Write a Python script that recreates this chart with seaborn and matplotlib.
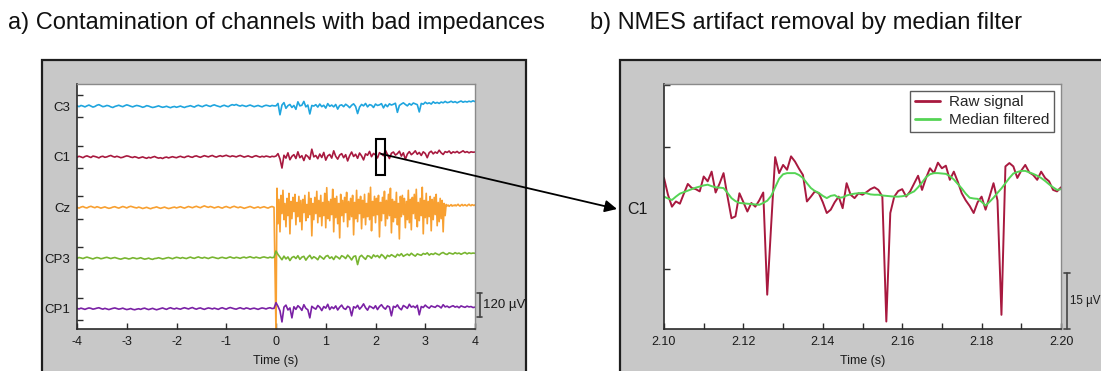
import numpy as np
import pandas as pd
import matplotlib
matplotlib.use("Agg")
import matplotlib.pyplot as plt
from matplotlib.patches import Rectangle
import seaborn as sns

# ---------------------------------------------------------------- data
channels = ["C3", "C1", "Cz", "CP3", "CP1"]
channel_colors = ["#1fa5de", "#a8193f", "#f8a031", "#78b530", "#7a21a5"]
channel_spacing = 250  # µV between stacked traces

# EEG in µV; "pre" sampled every 40 ms from -4 s to onset, "post" from onset to 4 s
C3_pre = [3, -2, 4, 1, -3, 2, 6, 1, -4, -1,
          5, 8, 3, -2, 0, 4, 2, -3, -6, -1,
          2, 5, 1, -2, 3, 7, 4, 0, -3, 1,
          4, 2, -1, -5, -2, 3, 1, -3, -6, -4,
          -1, 2, -2, -5, -3, 0, -4, -7, -3, -1,
          -5, -2, 1, -3, -6, -2, 0, 3, -1, -4,
          2, 5, 1, -2, 3, 6, 2, -1, 4, 7,
          3, 0, -3, 2, 5, 1, -2, 4, 8, 5,
          9, 4, 1, 5, 2, -1, 3, 6, 2, -2,
          1, 4, 0, -3, 2, 5, 3, 0, 4, 2]
C3_post = [2, 14, -42, 6, 18, -10, 3, 9, -6, 4,
           -15, 22, 2, 5, 24, -3, 6, -38, 4, 1,
           8, -4, 11, -2, 5, -9, 13, 0, 6, -3,
           9, -14, 4, 7, -2, 10, 3, -7, 5, 12,
           -1, -36, -4, 9, 2, 14, -3, 8, 5, -6,
           11, 4, 7, 13, -8, 9, -2, 12, 6, 10,
           15, -30, 4, 11, 17, 9, 2, 13, 6, 16,
           12, 8, -28, 14, 10, 20, 13, 17, 11, 22,
           15, 19, 14, 21, 17, 24, 18, 20, 25, 19,
           23, 17, 22, 26, 20, 24, 21, 25, 22, 27, 23]

C1_pre = [-2, 3, 0, -4, 2, 5, 1, -3, 4, 2,
          -1, -5, 1, 3, -2, 0, 4, 7, 2, -1,
          3, 0, -4, -2, 2, 5, 3, -1, -3, 1,
          -2, -6, -3, 0, -4, -7, -2, -5, -1, 2,
          -3, -6, -4, -8, -3, -1, -5, -2, 1, -2,
          -4, 0, 3, -1, -3, 2, 4, 0, -2, 3,
          5, 1, -2, 2, 6, 3, 0, 4, 7, 2,
          -1, 3, 6, 2, 5, 8, 4, 1, 5, 3,
          0, 4, 7, 3, -1, 2, 5, 1, -2, 3,
          6, 2, -1, 3, 0, 4, 2, -1, 3, 1]
C1_post = [4, 16, -10, -55, 8, -6, 20, -14, 3, 11,
           -8, 25, -4, 6, -18, 10, 2, -12, 38, 0,
           7, -9, 14, -3, 22, -16, 5, 12, -6, 30,
           3, -11, 9, 16, -4, 11, -20, 6, 24, 2,
           13, -7, 19, 5, -15, 15, 8, 27, 1, 17,
           10, -5, 21, 14, 6, 32, 12, -8, 18, 24,
           9, 16, 28, 4, 20, -12, 14, 26, 11, 19,
           30, 13, 22, 7, 25, 17, -4, 21, 28, 15,
           24, 18, 33, 20, 12, 26, 22, 29, 17, 25,
           21, 27, 19, 24, 30, 22, 26, 20, 25, 23, 24]

Cz_pre = [1, -3, 2, 5, 0, -2, 3, 6, 2, -1,
          4, 1, -3, 0, 3, -1, -4, -2, 2, 4,
          0, -3, 1, 5, 2, -2, 3, 6, 3, 0,
          -2, 2, -1, -5, -2, 1, -3, -6, -2, 0,
          3, -1, -4, -1, 2, -2, -5, -3, 0, 2,
          -2, 1, 4, 0, -3, 1, 5, 2, -1, 3,
          6, 2, -1, 4, 8, 4, 1, 5, 2, -2,
          1, 4, 0, -3, 2, 5, 1, -2, 3, 6,
          2, -1, 3, 0, -4, -1, 2, 5, 1, -3,
          0, 3, -2, 1, 4, 0, -3, 2, 5, 1]
# Cz after onset is sampled every 20 ms
Cz_post = [-620, 95, -80, 40, -120, 60, -30, 85, -60, 20,
           -95, 45, -40, 70, -130, 30, -55, 50, -20, 65,
           -85, 25, -45, 55, -70, 35, -110, 40, -25, 60,
           -65, 15, -50, 75, -35, 45, -140, 20, -60, 50,
           -30, 80, -75, 35, -45, 60, -90, 25, -40, 70,
           -100, 98, -55, 30, -65, 40, -35, 90, -120, 45,
           -50, 55, -80, 20, -150, 65, -40, 35, -70, 50,
           -25, 75, -95, 30, -60, 45, -45, 60, -135, 25,
           -55, 85, -70, 40, -30, 55, -105, 35, -50, 65,
           -85, 20, -45, 70, -60, 100, -115, 30, -40, 55,
           -75, 45, -35, 60, -145, 25, -65, 50, -30, 80,
           -90, 35, -55, 65, -40, 95, -125, 40, -70, 30,
           -50, 75, -85, 20, -155, 55, -45, 60, -35, 45,
           -100, 30, -60, 85, -75, 40, -110, 50, -30, 65,
           -55, 90, -95, 25, -65, 45, -40, 100, -130, 35,
           -50, 70, -80, 30, -45, 55, -115, 40, -60, 50,
           -35, 65, -90, 25, -70, 45, -55, 35, -120, 20,
           -40, 15, 8, 12, 6, 10, 14, 7, 11, 9,
           13, 8, 12, 16, 10, 7, 12, 15, 9, 11,
           14, 10, 8, 13, 16, 11, 9, 14, 12, 10, 13]

CP3_pre = [-1, 3, 1, -2, 2, 5, 2, -1, -4, 0,
           3, 1, -3, -1, 2, 4, 1, -2, 1, 3,
           0, -3, -5, -2, 1, -1, -4, -2, 2, 0,
           -3, -1, 2, -2, -5, -3, 0, -4, -6, -2,
           -1, 2, -1, -4, -2, 1, 3, 0, -3, 1,
           4, 2, -1, 3, 0, -2, 2, 5, 1, -1,
           3, 6, 2, 0, 4, 1, -2, 2, 5, 3,
           0, -2, 2, 4, 1, -1, 3, 6, 2, 0,
           4, 2, -1, 3, 5, 1, 4, 7, 3, 1,
           5, 2, 0, 4, 6, 3, 1, 5, 2, 4]
CP3_post = [35, 18, 5, -8, 10, -4, 6, -12, 3, 8,
            -2, 12, -6, 5, 9, -10, 4, 14, -3, 7,
            1, -8, 11, 3, -5, 9, 13, -1, 6, -7,
            10, 4, -4, 12, 7, -2, 15, 5, -9, 8,
            11, -32, 6, 14, 3, -6, 12, 9, -1, 16,
            7, 13, 2, 18, 10, -3, 14, 8, 17, 11,
            5, 19, 12, 22, 9, 15, 20, 13, 24, 16,
            10, 21, 17, 14, 23, 19, 26, 15, 22, 18,
            25, 20, 16, 24, 28, 21, 18, 26, 23, 20,
            27, 22, 25, 19, 24, 28, 21, 26, 23, 25, 24]

CP1_pre = [2, -1, 3, 0, -3, 1, 4, 2, -2, 0,
           3, 5, 1, -2, 2, -1, -4, -1, 2, 4,
           1, -2, 0, 3, -1, -4, -2, 1, -3, -5,
           -2, 0, -3, 1, 3, -1, -4, -1, 2, -2,
           -5, -2, 1, 4, 0, -3, 2, 5, 1, -1,
           3, 0, -2, 2, 5, 2, -1, 3, 6, 1,
           -2, 2, 4, 0, -3, 1, 4, 2, -1, 3,
           0, -3, 2, 5, 1, -2, 3, 6, 3, 0,
           -2, 2, 5, 1, -1, 4, 2, -2, 1, 3,
           0, -3, 1, 4, 2, -1, 3, 5, 1, 2]
CP1_post = [30, 12, -10, -65, 8, 18, -6, 4, -45, 10,
            -3, 15, 6, -8, 20, 2, -5, -45, 12, 4,
            -2, 16, 7, -9, 11, 3, 22, -4, 9, 1,
            14, -6, 8, 18, 2, -3, 12, 6, -35, 10,
            4, 17, -2, 9, 24, 5, -7, 13, 8, 1,
            15, -4, 11, 20, 6, -2, 14, 9, -35, 12,
            7, 19, 3, -5, 16, 10, 2, 22, 8, 13,
            5, 17, -30, 11, 6, 18, 9, 3, 14, 10,
            7, 16, 12, 4, 20, 9, 13, 6, 11, 15,
            8, 12, 5, 14, 10, 7, 13, 9, 11, 6, 8]

pre_segments = [C3_pre, C1_pre, Cz_pre, CP3_pre, CP1_pre]
post_segments = [C3_post, C1_post, Cz_post, CP3_post, CP1_post]

# C1 between 2.10 s and 2.20 s, 1 ms samples (µV)
raw_c1 = [8.0, 3.5, 0.3, 1.7, 1.1, 3.8, 6.4, 5.3, 5.0, 4.4,
          8.4, 7.1, 9.7, 4.1, 6.5, 9.3, 3.0, -2.8, -2.3, 3.9,
          1.5, -1.0, 1.3, 0.3, 2.0, 4.1, -23.3, -4.5, 13.6, 9.3,
          11.5, 10.2, 13.8, 12.4, 10.5, 8.8, 1.7, 3.0, 4.4, 3.9,
          1.5, -1.4, -0.5, 1.5, 3.0, -0.1, 6.6, 3.5, 2.6, 3.9,
          3.5, 4.2, 5.0, 5.5, 4.8, 3.0, -30.5, -1.4, 3.0, 4.5,
          5.0, 3.0, 4.4, 6.5, 8.6, 4.8, 8.0, 10.6, 9.3, 12.1,
          10.6, 11.3, 7.5, 9.7, 7.0, 3.9, 2.0, 0.5, -1.4, 1.5,
          3.0, -0.5, 3.0, 6.6, 2.0, -28.7, 11.1, 12.0, 11.1, 8.0,
          10.0, 11.5, 9.5, 8.8, 7.5, 9.7, 8.0, 7.1, 4.8, 4.4, 5.5]
median_c1 = [3.0, 2.5, 2.1, 3.0, 3.8, 4.2, 4.6, 5.0, 5.4, 5.7,
             6.0, 6.2, 5.8, 5.5, 5.4, 5.3, 4.0, 2.6, 1.8, 1.3,
             1.2, 1.1, 1.0, 0.9, 0.8, 1.3, 1.9, 3.2, 5.5, 7.8,
             9.0, 9.3, 9.3, 9.3, 8.8, 8.0, 6.6, 5.3, 4.5, 4.0,
             3.2, 2.6, 3.2, 3.4, 2.7, 2.8, 3.3, 3.6, 3.8, 3.9,
             4.0, 3.9, 3.6, 3.5, 3.5, 3.3, 3.2, 3.1, 3.0, 3.0,
             3.1, 3.3, 3.9, 4.4, 5.5, 6.8, 8.2, 9.0, 9.3, 9.3,
             9.2, 9.1, 8.5, 7.6, 6.4, 5.2, 3.8, 2.7, 2.5, 2.4,
             1.6, 0.6, 1.6, 2.7, 4.0, 5.2, 6.6, 8.0, 9.2, 9.6,
             9.9, 9.9, 9.5, 9.1, 8.6, 8.0, 7.2, 6.3, 5.5, 4.8, 5.0]

time_ticks = [-4, -3, -2, -1, 0, 1, 2, 3, 4]
zoom_ticks = [2.10, 2.11, 2.12, 2.13, 2.14, 2.15, 2.16, 2.17, 2.18, 2.19, 2.20]

# ---------------------------------------------------------------- tables
frames = []
for k, (name, pre, post) in enumerate(zip(channels, pre_segments, post_segments)):
    t = np.concatenate([np.linspace(-4, 0, len(pre), endpoint=False),
                        np.linspace(0, 4, len(post))])
    v = np.concatenate([pre, post]) - k * channel_spacing
    frames.append(pd.DataFrame({"time": t, "value": v, "channel": name}))
eeg = pd.concat(frames, ignore_index=True)

zoom_t = np.linspace(2.10, 2.20, len(raw_c1))
zoom = pd.concat([
    pd.DataFrame({"time": zoom_t, "value": raw_c1, "kind": "Raw signal"}),
    pd.DataFrame({"time": zoom_t, "value": median_c1, "kind": "Median filtered"}),
], ignore_index=True)

# ---------------------------------------------------------------- figure
sns.set_theme(style="ticks")
plt.rcParams["font.family"] = ["Liberation Sans", "DejaVu Sans"]

W, H = 1101, 371
fig = plt.figure(figsize=(W / 100, H / 100), dpi=100, facecolor="white")


def fx(px):
    return px / W


def fy(py):
    return 1 - py / H


panel_face = "#c8c8c8"
panel_edge = "#1e1e1e"
fig.add_artist(Rectangle((fx(42), fy(380)), fx(526) - fx(42), fy(60) - fy(380),
                         transform=fig.transFigure, facecolor=panel_face,
                         edgecolor=panel_edge, lw=1.6, zorder=-2))
fig.add_artist(Rectangle((fx(620), fy(380)), fx(1120) - fx(620), fy(60) - fy(380),
                         transform=fig.transFigure, facecolor=panel_face,
                         edgecolor=panel_edge, lw=1.6, zorder=-2))

fig.text(fx(8), fy(29), "a) Contamination of channels with bad impedances",
         fontsize=17, color="#111111", ha="left", va="baseline")
fig.text(fx(590), fy(29), "b) NMES artifact removal by median filter",
         fontsize=17, color="#111111", ha="left", va="baseline")

ax1 = fig.add_axes([fx(77), fy(329), fx(475) - fx(77), fy(84) - fy(329)])
ax2 = fig.add_axes([fx(664), fy(329), fx(1061) - fx(664), fy(84) - fy(329)])


def style_axes(ax):
    ax.set_facecolor("white")
    for side in ("left", "bottom"):
        ax.spines[side].set_color("#2b2b2b")
        ax.spines[side].set_linewidth(1.2)
    for side in ("top", "right"):
        ax.spines[side].set_visible(True)
        ax.spines[side].set_color("#8a8a8a")
        ax.spines[side].set_linewidth(1.0)
    ax.tick_params(which="both", direction="in", length=4, width=1.0,
                   color="#2b2b2b", labelsize=9, labelcolor="#1a1a1a", pad=5)


# ---- left: stacked channels
sns.lineplot(data=eeg, x="time", y="value", hue="channel",
             palette=dict(zip(channels, channel_colors)), hue_order=channels,
             estimator=None, sort=False, legend=False, lw=1.2, ax=ax1)
style_axes(ax1)
offsets = [-k * channel_spacing for k in range(len(channels))]
ax1.set_xlim(-4, 4)
ax1.set_ylim(-1100, 110)
ax1.set_xticks(time_ticks)
ax1.set_xticklabels([str(t) for t in time_ticks])
ax1.set_yticks(offsets)
ax1.set_yticklabels(channels, fontsize=9.5)
ax1.set_yticks([o + d for o in offsets for d in (-55, 55)], minor=True)
ax1.tick_params(axis="y", which="major", length=0, pad=5)
ax1.set_xlabel("Time (s)", fontsize=9, color="#1a1a1a", labelpad=5)
ax1.set_ylabel("")

# box marking the zoomed window
ax1.add_patch(Rectangle((2.0, -340), 0.2, 180, fill=False, edgecolor="black",
                        lw=1.5, zorder=5))

# amplitude scale bar
bar_c = "#444444"
for xs, ys in (([4.1, 4.1], [-1040, -920]), ([4.05, 4.15], [-1040, -1040]),
               ([4.05, 4.15], [-920, -920])):
    ax1.plot(xs, ys, color=bar_c, lw=1.2, clip_on=False)
ax1.text(4.17, -980, "120 µV", fontsize=9.5, color="#1a1a1a", ha="left",
         va="center", clip_on=False)

# ---- right: zoomed C1
sns.lineplot(data=zoom, x="time", y="value", hue="kind",
             palette={"Raw signal": "#a8193f", "Median filtered": "#55d455"},
             hue_order=["Raw signal", "Median filtered"],
             estimator=None, sort=False, lw=1.4, ax=ax2)
style_axes(ax2)
ax2.set_xlim(2.10, 2.20)
ax2.set_ylim(-32.5, 33.2)
ax2.set_xticks(zoom_ticks)
ax2.set_xticklabels([f"{t:.2f}" if i % 2 == 0 else "" for i, t in enumerate(zoom_ticks)])
ax2.set_yticks([0])
ax2.set_yticklabels(["C1"], fontsize=11.5)
ax2.set_yticks([-16.4, 16.4, 33.0], minor=True)
ax2.tick_params(axis="y", which="major", length=0, pad=12)
ax2.set_xlabel("Time (s)", fontsize=9, color="#1a1a1a", labelpad=5)
ax2.set_ylabel("")

leg = ax2.legend(loc="upper right", fontsize=11, frameon=True, fancybox=False,
                 handlelength=1.65, handletextpad=0.6, labelspacing=0.25,
                 borderpad=0.3, borderaxespad=0.45)
leg.get_frame().set_edgecolor("#333333")
leg.get_frame().set_linewidth(1.0)
for line in leg.get_lines():
    line.set_linewidth(2.0)

for xs, ys in (([2.2015, 2.2015], [-32.5, -17.5]), ([2.2007, 2.2023], [-32.5, -32.5]),
               ([2.2007, 2.2023], [-17.5, -17.5])):
    ax2.plot(xs, ys, color=bar_c, lw=1.2, clip_on=False)
ax2.text(2.2022, -25, "15 µV", fontsize=8.3, color="#1a1a1a", ha="left",
         va="center", clip_on=False)

# arrow from the marked window to the zoomed panel
ax1.annotate("", xy=(fx(617), fy(209)), xycoords="figure fraction",
             xytext=(2.11, -235), textcoords="data", annotation_clip=False,
             arrowprops=dict(arrowstyle="-|>", color="black", lw=1.3,
                             mutation_scale=18, shrinkA=0, shrinkB=0),
             zorder=6)

fig.savefig("out.png", dpi=100, facecolor="white")
